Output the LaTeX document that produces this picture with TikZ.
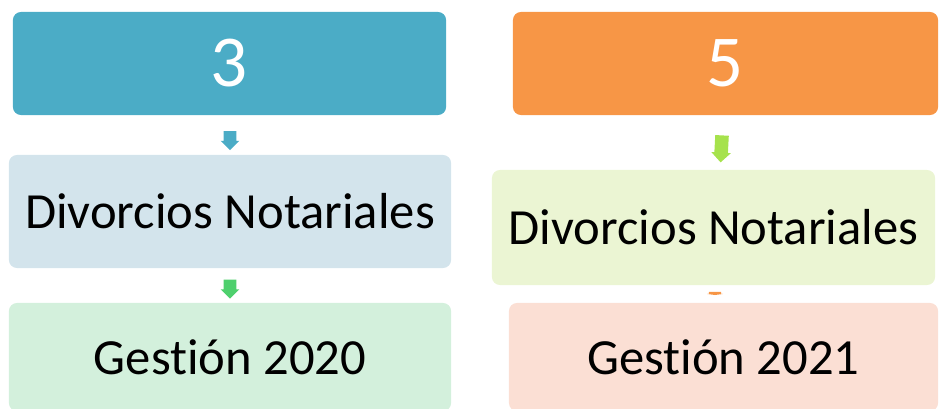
\documentclass[tikz,border=0pt]{standalone}
\usepackage{fontspec}
\setmainfont{Carlito}[Ligatures=NoCommon]
\usepackage{xcolor}
\usetikzlibrary{shapes.arrows}

\definecolor{tealbox}{HTML}{4BACC6}
\definecolor{orangebox}{HTML}{F79646}
\definecolor{bluelight}{HTML}{D3E4EC}
\definecolor{greenlight}{HTML}{D3F0DC}
\definecolor{limelight}{HTML}{EBF5D3}
\definecolor{salmonlight}{HTML}{FBDFD4}
\definecolor{greenarrow}{HTML}{4ED06D}
\definecolor{limearrow}{HTML}{A6E24C}

\begin{document}
\begin{tikzpicture}
		[x=0.025cm, y=-0.025cm,
		numbox/.style={rectangle,rounded corners=0.2cm,text=white,inner sep=0pt,
			font=\fontsize{52}{60}\selectfont, minimum height=2.575cm},
		textbox/.style={rectangle,rounded corners=0.2cm,text=black,inner sep=0pt,
			font=\fontsize{36}{42}\selectfont},
		downarrow/.style={single arrow,rotate=-90,inner xsep=0pt,inner ysep=0.15cm,
			single arrow head extend=0.075cm, minimum width=0.45cm, minimum height=0.475cm}]
		\useasboundingbox (0,0) rectangle (940,408);

		\node [numbox,fill=tealbox,minimum width=10.825cm] (n3) at (229.5,63.5) {3};
		\node [textbox,fill=bluelight,minimum width=11.05cm,minimum height=2.825cm] (d20) at (230,211.5) {Divorcios Notariales};
		\node [textbox,fill=greenlight,minimum width=11.05cm,minimum height=2.7cm] (g20) at (230,357) {Gestión 2020};

		\node [numbox,fill=orangebox,minimum width=10.625cm] (n5) at (725.5,63.5) {5};
		\node [textbox,fill=limelight,minimum width=11.075cm,minimum height=2.875cm] (d21) at (713.5,227.5) {Divorcios Notariales};
		\node [textbox,fill=salmonlight,minimum width=10.725cm,minimum height=2.7cm] (g21) at (723.5,357) {Gestión 2021};

		\node [downarrow,fill=tealbox] (a1) at (230,137.5) {};
		\node [downarrow,fill=greenarrow] (a2) at (230,286) {};
		\node [downarrow,fill=limearrow,rotate=-3,minimum height=0.675cm,inner ysep=0.1625cm] (a3) at (721.5,145.5) {};
		\node [downarrow,fill=orangebox,minimum height=0.08cm,minimum width=0.4cm,
			inner ysep=0.12cm,single arrow head extend=0.04cm,single arrow tip angle=165] (a4) at (715,293) {};

	\end{tikzpicture}
\end{document}
